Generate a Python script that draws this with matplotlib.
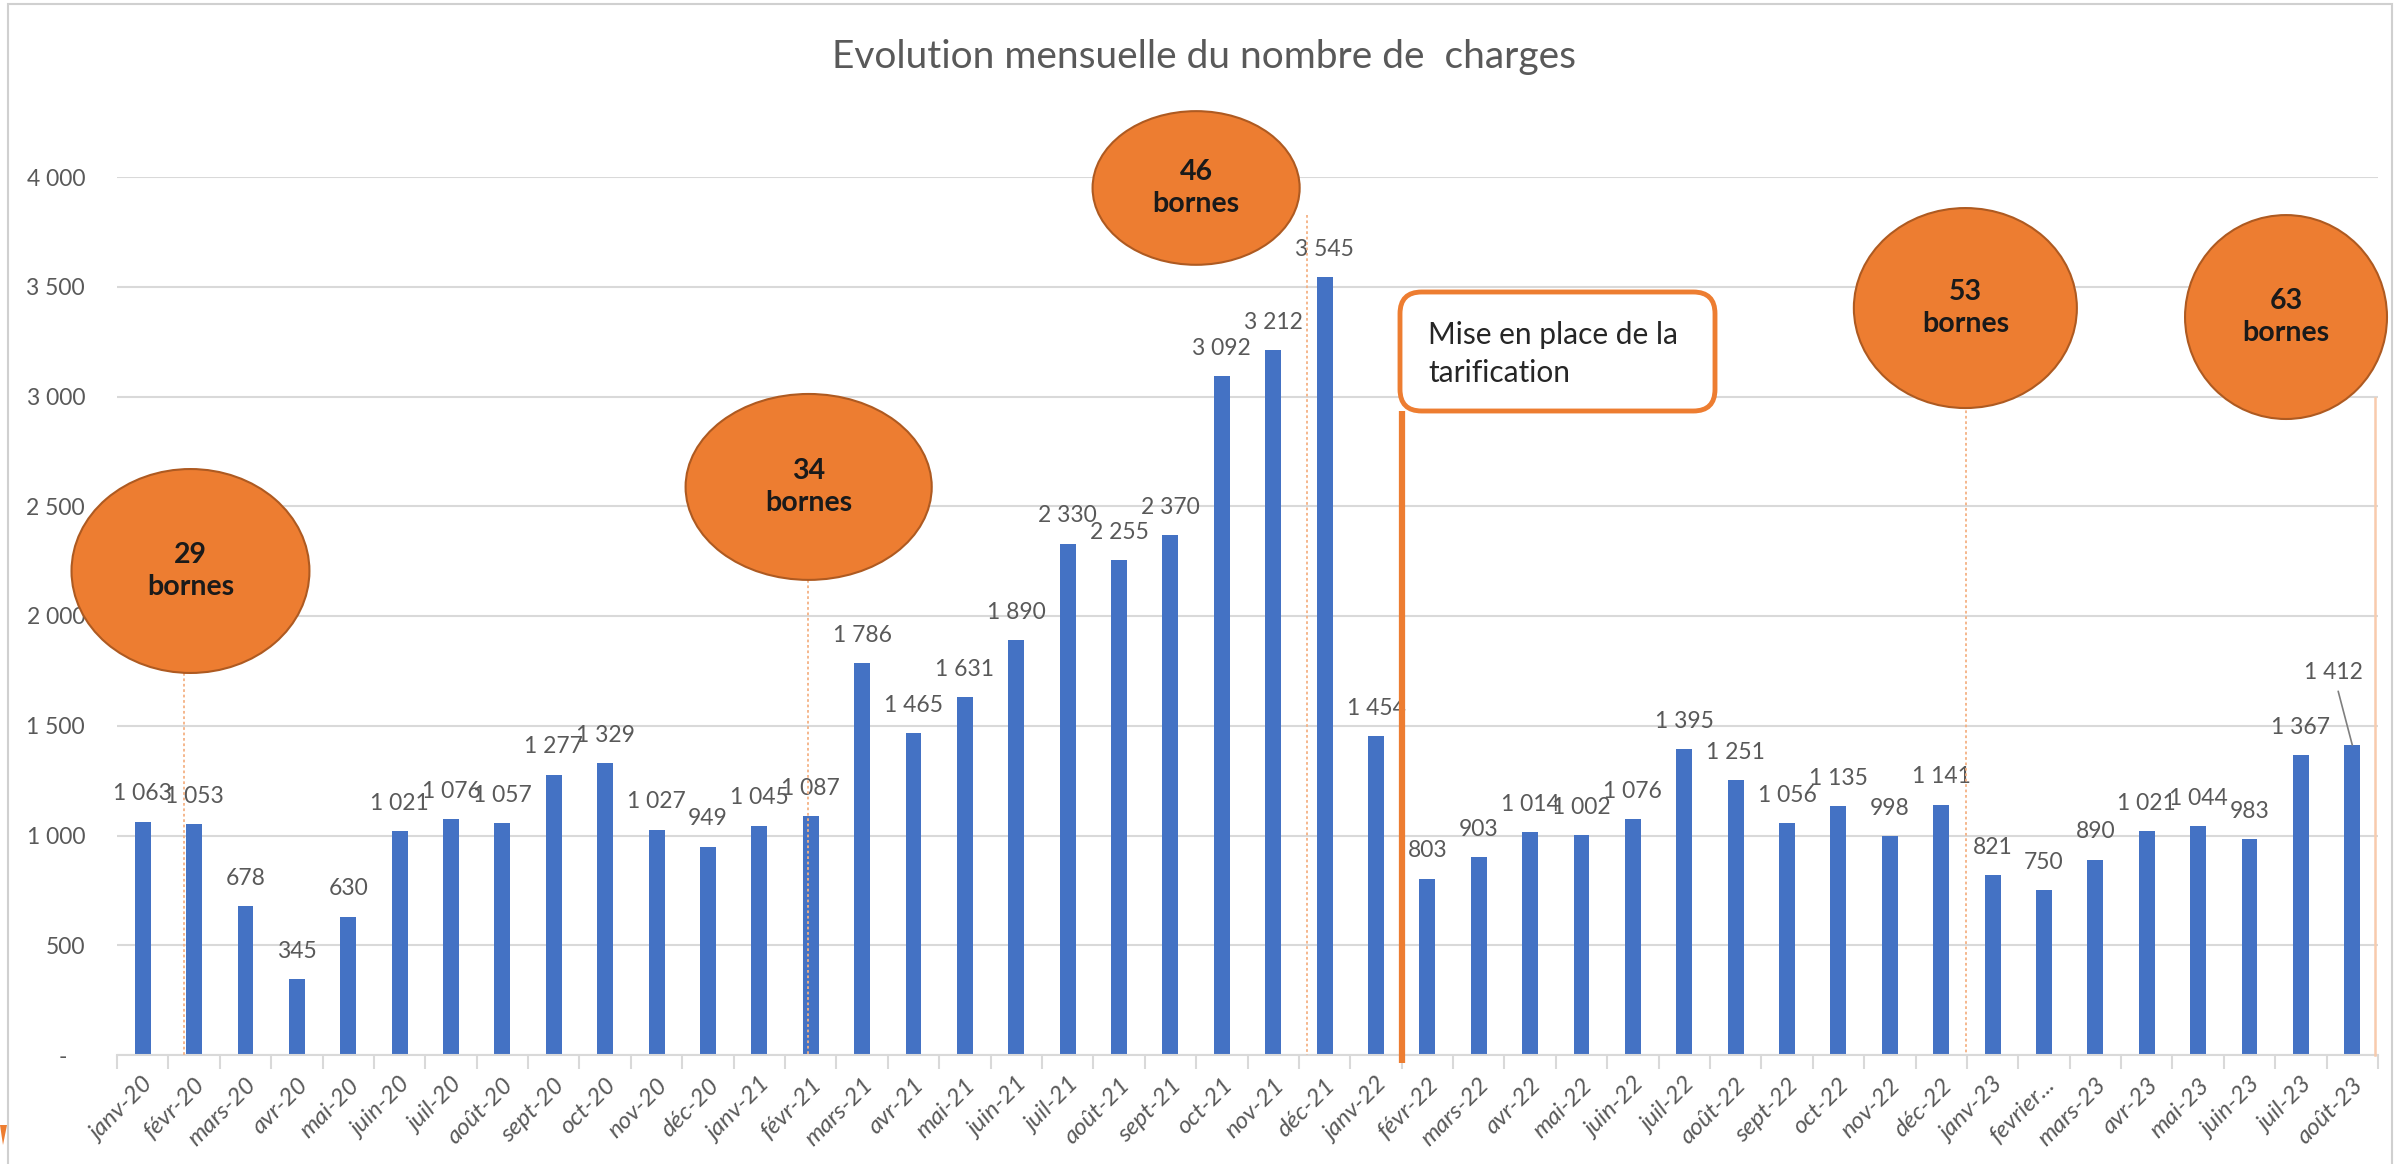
import matplotlib
matplotlib.use('Agg')
import matplotlib.pyplot as plt
from matplotlib.patches import Ellipse, FancyBboxPatch, Rectangle, Polygon
import numpy as np

# Données : nombre de charges par mois
mois = ['janv-20', 'févr-20', 'mars-20', 'avr-20', 'mai-20', 'juin-20', 'juil-20', 'août-20',
        'sept-20', 'oct-20', 'nov-20', 'déc-20',
        'janv-21', 'févr-21', 'mars-21', 'avr-21', 'mai-21', 'juin-21', 'juil-21', 'août-21',
        'sept-21', 'oct-21', 'nov-21', 'déc-21',
        'janv-22', 'févr-22', 'mars-22', 'avr-22', 'mai-22', 'juin-22', 'juil-22', 'août-22',
        'sept-22', 'oct-22', 'nov-22', 'déc-22',
        'janv-23', 'fevrier...', 'mars-23', 'avr-23', 'mai-23', 'juin-23', 'juil-23', 'août-23']
charges = [1063, 1053, 678, 345, 630, 1021, 1076, 1057, 1277, 1329, 1027, 949,
           1045, 1087, 1786, 1465, 1631, 1890, 2330, 2255, 2370, 3092, 3212, 3545,
           1454, 803, 903, 1014, 1002, 1076, 1395, 1251, 1056, 1135, 998, 1141,
           821, 750, 890, 1021, 1044, 983, 1367, 1412]
bornes = [29, 34, 46, 53, 63]
y_ticks = [0, 500, 1000, 1500, 2000, 2500, 3000, 3500, 4000]

plt.rcParams['font.family'] = ['Lato', 'DejaVu Sans']

GRIS = '#595959'
ORANGE = '#ED7D31'


def fmt(v):
    return f"{v:,}".replace(',', ' ')


W, H = 2407, 1164
fig = plt.figure(figsize=(W / 100, H / 100), dpi=100)
fig.patch.set_facecolor('white')

# cadre du graphique
fig.add_artist(Rectangle((8 / W, -0.02), (2392 - 8) / W, 1.02 - 4 / H, transform=fig.transFigure,
                         fill=False, edgecolor='#D0D0D0', lw=1.5))
# petit décor orange en bas à gauche
fig.add_artist(Polygon([(0, 1 - 1125 / H), (7 / W, 1 - 1125 / H), (3 / W, 1 - 1145 / H)],
                       closed=True, transform=fig.transFigure, color=ORANGE, lw=0))

ax = fig.add_axes([117 / W, 1 - 1055 / H, (2378 - 117) / W, (1055 - 177) / H])
x = np.arange(len(mois))
ax.bar(x, charges, width=0.31, color='#4472C4', zorder=2)

ax.set_xlim(-0.5, len(mois) - 0.5)
ax.set_ylim(0, 4000)
ax.set_yticks(y_ticks)
ax.set_yticklabels(['-   ' if t == 0 else fmt(t) for t in y_ticks])
ax.yaxis.grid(True, color='#D9D9D9', lw=1.5)
ax.set_axisbelow(True)
for s in ['top', 'right', 'left']:
    ax.spines[s].set_visible(False)
ax.spines['bottom'].set_color('#D9D9D9')
ax.spines['bottom'].set_linewidth(1.5)
ax.tick_params(axis='y', length=0, pad=23, labelsize=16.5, labelcolor=GRIS)

ax.set_xticks(x)
ax.set_xticklabels(mois, rotation=45, ha='right', rotation_mode='anchor',
                   fontsize=17.5, style='italic', color=GRIS)
ax.tick_params(axis='x', which='major', length=0, pad=14)
ax.set_xticks(np.arange(-0.5, len(mois)), minor=True)
ax.tick_params(axis='x', which='minor', length=10, color='#D9D9D9', width=1.5)

# étiquettes de données (chevauchements comme dans l'original)
for i, v in enumerate(charges[:-1]):
    ax.annotate(fmt(v), (i, v), xytext=(0, 20), textcoords='offset points',
                ha='center', va='center', fontsize=16.5, color=GRIS)
n = len(charges) - 1
ax.annotate(fmt(charges[n]), xy=(n, charges[n]), xytext=(n - 0.37, charges[n] + 330),
            ha='center', va='center', fontsize=16.5, color=GRIS,
            arrowprops=dict(arrowstyle='-', color='#7F7F7F', lw=1.2, shrinkA=4, shrinkB=0))

# lignes verticales (ajout de bornes)
lignes = [(0.8, 1740), (12.94, 2164), (22.66, 3827), (35.49, 2961)]
for lx, ly in lignes:
    ax.plot([lx, lx], [ly, 0], color='#F4B183', lw=1.3, ls=(0, (1.5, 1.5)), clip_on=False, zorder=3)
ax.plot([43.45, 43.45], [2993, 0], color='#F8CBAD', lw=1.8, clip_on=False, zorder=3)

# ellipses "bornes"
ellipses = [(0.93, 2205, 4.63, 929), (12.96, 2588, 4.79, 847), (20.5, 3950, 4.03, 700),
            (35.47, 3403, 4.34, 911), (41.71, 3362, 3.93, 929)]
for (ex, ey, ew, eh), b in zip(ellipses, bornes):
    ax.add_patch(Ellipse((ex, ey), ew, eh, facecolor=ORANGE, edgecolor='#AE5A21', lw=1.5,
                         clip_on=False, zorder=4))
    ax.text(ex, ey, f"{b}\nbornes", ha='center', va='center', fontsize=20.5, fontweight='bold',
            color='#1A1A1A', linespacing=1.25, zorder=5, clip_on=False)

# mise en place de la tarification
ax.plot([24.5, 24.5], [2934, -36], color=ORANGE, lw=4.5, clip_on=False, zorder=4,
        solid_capstyle='butt')
fig.add_artist(FancyBboxPatch((1400 / W, 1 - 411 / H), 315 / W, 119 / H,
                              boxstyle='round,pad=0,rounding_size=0.009', mutation_aspect=W / H,
                              transform=fig.transFigure, facecolor='white', edgecolor=ORANGE, lw=3.5))
fig.text(1428 / W, 1 - 354 / H, "Mise en place de la\ntarification", ha='left', va='center',
         fontsize=21.5, color='#262626', linespacing=1.4)

fig.text(0.5, 1 - 57 / H, "Evolution mensuelle du nombre de  charges", ha='center', va='center',
         fontsize=28, color=GRIS)

fig.savefig('out.png', dpi=100)
